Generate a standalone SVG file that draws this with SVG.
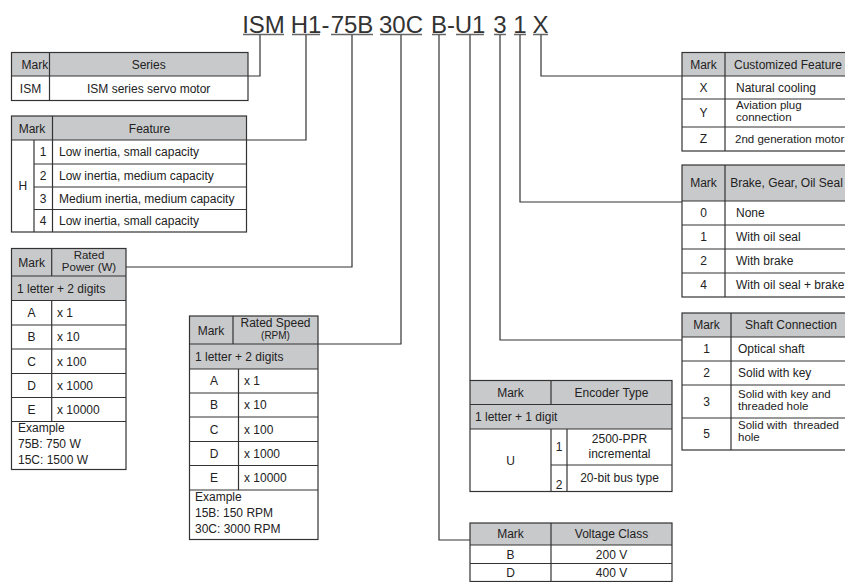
<svg xmlns="http://www.w3.org/2000/svg" width="845" height="582" viewBox="0 0 845 582">
<style>
text{font-family:"Liberation Sans",Arial,sans-serif;font-size:12px;fill:#222}
.t{font-size:24px;fill:#333}
.c{text-anchor:middle}
.s{font-size:10px}
.two{font-size:11.5px}
.hd{fill:#c8c9cb;stroke:none}
.bx{fill:none;stroke:#333;stroke-width:1.2}
.ln{stroke:#333;stroke-width:1.2}
.ul{stroke:#666;stroke-width:1.5}
.cn{fill:none;stroke:#333;stroke-width:1.2}
</style>
<rect width="845" height="582" fill="#fff"/>
<g id="title">
<text class="t c" x="263.5" y="32.5">ISM</text>
<text class="t c" x="306" y="32.5">H1</text>
<text class="t" x="321.5" y="32.5">-</text>
<text class="t c" x="352" y="32.5">75B</text>
<text class="t c" x="401" y="32.5">30C</text>
<text class="t c" x="439" y="32.5">B</text>
<text class="t" x="447" y="32.5">-</text>
<text class="t c" x="470" y="32.5">U1</text>
<text class="t c" x="500" y="32.5">3</text>
<text class="t c" x="520" y="32.5">1</text>
<text class="t c" x="540.5" y="32.5">X</text>
<line class="ul" x1="243" y1="34.5" x2="284" y2="34.5"/>
<line class="ul" x1="292" y1="34.5" x2="320" y2="34.5"/>
<line class="ul" x1="331" y1="34.5" x2="373" y2="34.5"/>
<line class="ul" x1="380" y1="34.5" x2="422" y2="34.5"/>
<line class="ul" x1="432" y1="34.5" x2="446" y2="34.5"/>
<line class="ul" x1="456" y1="34.5" x2="484" y2="34.5"/>
<line class="ul" x1="494" y1="34.5" x2="506" y2="34.5"/>
<line class="ul" x1="514" y1="34.5" x2="526" y2="34.5"/>
<line class="ul" x1="533" y1="34.5" x2="548" y2="34.5"/>
</g>
<g id="connectors">
<path class="cn" d="M260,35V76H248"/>
<path class="cn" d="M306,35V140H246.5"/>
<path class="cn" d="M352,35V267H126"/>
<path class="cn" d="M401,35V344H318"/>
<path class="cn" d="M439,35V540H470"/>
<path class="cn" d="M470,35V380.5"/>
<path class="cn" d="M500,35V340H682"/>
<path class="cn" d="M520,35V202H682"/>
<path class="cn" d="M541,35V76H682"/>
</g>
<g id="series">
<rect class="hd" x="11.5" y="52.5" width="236.5" height="23.5"/>
<rect class="bx" x="11.5" y="52.5" width="236.5" height="48"/>
<line class="ln" x1="11.5" y1="76" x2="248" y2="76"/>
<line class="ln" x1="49.5" y1="52.5" x2="49.5" y2="100.5"/>
<text x="21.5" y="68.5">Mark</text>
<text class="c" x="148.7" y="68.5">Series</text>
<text class="c" x="30.5" y="92.5">ISM</text>
<text class="c" x="148.7" y="92.5">ISM series servo motor</text>
</g>
<g id="feature">
<rect class="hd" x="11.5" y="116" width="235" height="24"/>
<rect class="bx" x="11.5" y="116" width="235" height="116"/>
<line class="ln" x1="11.5" y1="140" x2="246.5" y2="140"/>
<line class="ln" x1="34" y1="164" x2="246.5" y2="164"/>
<line class="ln" x1="34" y1="187" x2="246.5" y2="187"/>
<line class="ln" x1="34" y1="209.5" x2="246.5" y2="209.5"/>
<line class="ln" x1="52.5" y1="116" x2="52.5" y2="232"/>
<line class="ln" x1="34" y1="140" x2="34" y2="232"/>
<text class="c" x="32" y="132.5">Mark</text>
<text class="c" x="149.5" y="132.5">Feature</text>
<text class="c" x="22.8" y="190.3">H</text>
<text class="c" x="43.2" y="156.3">1</text>
<text class="c" x="43.2" y="179.8">2</text>
<text class="c" x="43.2" y="202.5">3</text>
<text class="c" x="43.2" y="225">4</text>
<text x="59" y="156.3">Low inertia, small capacity</text>
<text x="59" y="179.8">Low inertia, medium capacity</text>
<text x="59" y="202.5">Medium inertia, medium capacity</text>
<text x="59" y="225">Low inertia, small capacity</text>
</g>
<g id="rated-power">
<rect class="hd" x="11.5" y="248.5" width="114.5" height="52"/>
<rect class="bx" x="11.5" y="248.5" width="114.5" height="221"/>
<line class="ln" x1="11.5" y1="276" x2="126" y2="276"/>
<line class="ln" x1="11.5" y1="300.5" x2="126" y2="300.5"/>
<line class="ln" x1="11.5" y1="325" x2="126" y2="325"/>
<line class="ln" x1="11.5" y1="349" x2="126" y2="349"/>
<line class="ln" x1="11.5" y1="373.5" x2="126" y2="373.5"/>
<line class="ln" x1="11.5" y1="397.5" x2="126" y2="397.5"/>
<line class="ln" x1="11.5" y1="421.5" x2="126" y2="421.5"/>
<line class="ln" x1="51.7" y1="248.5" x2="51.7" y2="276"/>
<line class="ln" x1="51.7" y1="300.5" x2="51.7" y2="421.5"/>
<text class="c" x="31.6" y="266.5">Mark</text>
<text class="c two" x="89" y="258.7">Rated<tspan x="89" dy="12">Power (W)</tspan></text>
<text x="17" y="292.5">1 letter + 2 digits</text>
<text class="c" x="31.6" y="317">A</text>
<text class="c" x="31.6" y="341">B</text>
<text class="c" x="31.6" y="365.5">C</text>
<text class="c" x="31.6" y="389.5">D</text>
<text class="c" x="31.6" y="413.5">E</text>
<text x="57" y="317">x 1</text>
<text x="57" y="341">x 10</text>
<text x="57" y="365.5">x 100</text>
<text x="57" y="389.5">x 1000</text>
<text x="57" y="413.5">x 10000</text>
<text x="18" y="432.3">Example<tspan x="18" dy="16">75B: 750 W</tspan><tspan x="18" dy="16">15C: 1500 W</tspan></text>
</g>
<g id="rated-speed">
<rect class="hd" x="189.5" y="316" width="128.5" height="53"/>
<rect class="bx" x="189.5" y="316" width="128.5" height="223.5"/>
<line class="ln" x1="189.5" y1="344" x2="318" y2="344"/>
<line class="ln" x1="189.5" y1="369" x2="318" y2="369"/>
<line class="ln" x1="189.5" y1="393" x2="318" y2="393"/>
<line class="ln" x1="189.5" y1="417" x2="318" y2="417"/>
<line class="ln" x1="189.5" y1="441.5" x2="318" y2="441.5"/>
<line class="ln" x1="189.5" y1="465.5" x2="318" y2="465.5"/>
<line class="ln" x1="189.5" y1="490" x2="318" y2="490"/>
<line class="ln" x1="233" y1="316" x2="233" y2="344"/>
<line class="ln" x1="238.5" y1="369" x2="238.5" y2="490"/>
<text class="c" x="211" y="334.5">Mark</text>
<text class="c" x="275.5" y="327">Rated Speed<tspan class="s" x="275.5" dy="11.5">(RPM)</tspan></text>
<text x="195" y="361">1 letter + 2 digits</text>
<text class="c" x="214" y="385.3">A</text>
<text class="c" x="214" y="409.3">B</text>
<text class="c" x="214" y="433.5">C</text>
<text class="c" x="214" y="457.8">D</text>
<text class="c" x="214" y="482">E</text>
<text x="244" y="385.3">x 1</text>
<text x="244" y="409.3">x 10</text>
<text x="244" y="433.5">x 100</text>
<text x="244" y="457.8">x 1000</text>
<text x="244" y="482">x 10000</text>
<text x="195" y="500.5">Example<tspan x="195" dy="16">15B: 150 RPM</tspan><tspan x="195" dy="16">30C: 3000 RPM</tspan></text>
</g>
<g id="encoder-type">
<rect class="hd" x="470" y="380.5" width="202" height="48.5"/>
<rect class="bx" x="470" y="380.5" width="202" height="111"/>
<line class="ln" x1="470" y1="404.5" x2="672" y2="404.5"/>
<line class="ln" x1="470" y1="429" x2="672" y2="429"/>
<line class="ln" x1="551" y1="465" x2="672" y2="465"/>
<line class="ln" x1="551" y1="380.5" x2="551" y2="404.5"/>
<line class="ln" x1="551" y1="429" x2="551" y2="491.5"/>
<line class="ln" x1="567" y1="429" x2="567" y2="491.5"/>
<text class="c" x="510.5" y="396.8">Mark</text>
<text class="c" x="611.5" y="396.8">Encoder Type</text>
<text x="475" y="421">1 letter + 1 digit</text>
<text class="c" x="510.5" y="464.5">U</text>
<text class="c" x="559" y="451">1</text>
<text class="c" x="559" y="489">2</text>
<text class="c" x="619.5" y="443">2500-PPR<tspan x="619.5" dy="15">incremental</tspan></text>
<text class="c" x="619.5" y="482">20-bit bus type</text>
</g>
<g id="voltage-class">
<rect class="hd" x="470" y="523" width="202" height="22"/>
<rect class="bx" x="470" y="523" width="202" height="58.5"/>
<line class="ln" x1="470" y1="545" x2="672" y2="545"/>
<line class="ln" x1="470" y1="563.5" x2="672" y2="563.5"/>
<line class="ln" x1="551" y1="523" x2="551" y2="581.5"/>
<text class="c" x="510.5" y="538.3">Mark</text>
<text class="c" x="611.5" y="538.3">Voltage Class</text>
<text class="c" x="510.5" y="558.5">B</text>
<text class="c" x="611.5" y="558.5">200 V</text>
<text class="c" x="510.5" y="577">D</text>
<text class="c" x="611.5" y="577">400 V</text>
</g>
<g id="customized-feature">
<rect class="hd" x="682" y="52.5" width="166" height="23.5"/>
<rect class="bx" x="682" y="52.5" width="166" height="98.5"/>
<line class="ln" x1="682" y1="76" x2="848" y2="76"/>
<line class="ln" x1="682" y1="99" x2="848" y2="99"/>
<line class="ln" x1="682" y1="127" x2="848" y2="127"/>
<line class="ln" x1="725" y1="52.5" x2="725" y2="151"/>
<text class="c" x="703.5" y="68.5">Mark</text>
<text class="c" x="788" y="68.5">Customized Feature</text>
<text class="c" x="703.5" y="91.8">X</text>
<text x="736" y="91.8">Natural cooling</text>
<text class="c" x="703.5" y="117.3">Y</text>
<text class="two" x="736" y="108.5">Aviation plug<tspan x="736" dy="12">connection</tspan></text>
<text class="c" x="703.5" y="143.3">Z</text>
<text x="735" y="143.3" style="font-size:11.5px">2nd generation motor</text>
</g>
<g id="brake-gear-oil-seal">
<rect class="hd" x="682" y="165" width="166" height="36"/>
<rect class="bx" x="682" y="165" width="166" height="132"/>
<line class="ln" x1="682" y1="201" x2="848" y2="201"/>
<line class="ln" x1="682" y1="225" x2="848" y2="225"/>
<line class="ln" x1="682" y1="249" x2="848" y2="249"/>
<line class="ln" x1="682" y1="273" x2="848" y2="273"/>
<line class="ln" x1="725" y1="165" x2="725" y2="297"/>
<text class="c" x="703.5" y="187.3">Mark</text>
<text class="c" x="786.5" y="187.3">Brake, Gear, Oil Seal</text>
<text class="c" x="703.5" y="217.3">0</text>
<text x="736" y="217.3">None</text>
<text class="c" x="703.5" y="241.3">1</text>
<text x="736" y="241.3">With oil seal</text>
<text class="c" x="703.5" y="265.3">2</text>
<text x="736" y="265.3">With brake</text>
<text class="c" x="703.5" y="289.3">4</text>
<text x="736" y="289.3">With oil seal + brake</text>
</g>
<g id="shaft-connection">
<rect class="hd" x="682" y="313" width="166" height="24"/>
<rect class="bx" x="682" y="313" width="166" height="137"/>
<line class="ln" x1="682" y1="337" x2="848" y2="337"/>
<line class="ln" x1="682" y1="361" x2="848" y2="361"/>
<line class="ln" x1="682" y1="385" x2="848" y2="385"/>
<line class="ln" x1="682" y1="418" x2="848" y2="418"/>
<line class="ln" x1="731" y1="313" x2="731" y2="450"/>
<text class="c" x="706.5" y="329.3">Mark</text>
<text class="c" x="791" y="329.3">Shaft Connection</text>
<text class="c" x="706.5" y="353.3">1</text>
<text x="738" y="353.3">Optical shaft</text>
<text class="c" x="706.5" y="377.3">2</text>
<text x="738" y="377.3">Solid with key</text>
<text class="c" x="706.5" y="405.8">3</text>
<text class="two" x="738" y="397.5">Solid with key and<tspan x="738" dy="12">threaded hole</tspan></text>
<text class="c" x="706.5" y="438.3">5</text>
<text class="two" x="738" y="428.8" xml:space="preserve">Solid with  threaded<tspan x="738" dy="12">hole</tspan></text>
</g>
</svg>
